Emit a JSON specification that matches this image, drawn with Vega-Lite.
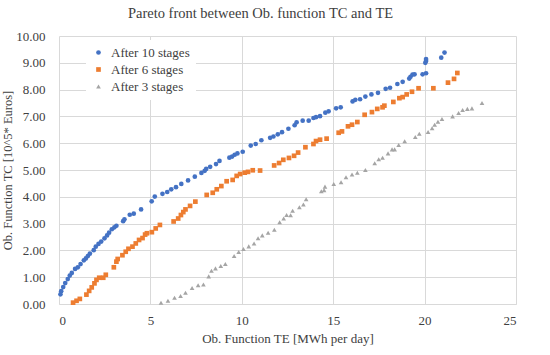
{
  "$schema": "https://vega.github.io/schema/vega-lite/v6.json",
  "width": 457,
  "height": 268,
  "autosize": "none",
  "padding": {"left": 59, "top": 36, "right": 34, "bottom": 51},
  "background": "white",
  "title": {"text": "Pareto front between Ob. function TC and TE", "font": "Liberation Serif", "fontSize": 14.5, "fontWeight": "normal", "color": "#404040", "anchor": "middle", "dx": -27, "offset": 9},
  "datasets": {
    "pts": [
      {"s": "After 10 stages", "te": 0.08, "tc": 0.36}, {"s": "After 10 stages", "te": 0.12, "tc": 0.48}, {"s": "After 10 stages", "te": 0.23, "tc": 0.63}, {"s": "After 10 stages", "te": 0.34, "tc": 0.78}, {"s": "After 10 stages", "te": 0.48, "tc": 0.93}, {"s": "After 10 stages", "te": 0.59, "tc": 1.06}, {"s": "After 10 stages", "te": 0.70, "tc": 1.16}, {"s": "After 10 stages", "te": 0.88, "tc": 1.31}, {"s": "After 10 stages", "te": 1.03, "tc": 1.37}, {"s": "After 10 stages", "te": 1.18, "tc": 1.49}, {"s": "After 10 stages", "te": 1.36, "tc": 1.63}, {"s": "After 10 stages", "te": 1.47, "tc": 1.70}, {"s": "After 10 stages", "te": 1.58, "tc": 1.79}, {"s": "After 10 stages", "te": 1.69, "tc": 1.88}, {"s": "After 10 stages", "te": 1.90, "tc": 2.01}, {"s": "After 10 stages", "te": 2.01, "tc": 2.14}, {"s": "After 10 stages", "te": 2.16, "tc": 2.24}, {"s": "After 10 stages", "te": 2.31, "tc": 2.33}, {"s": "After 10 stages", "te": 2.49, "tc": 2.45}, {"s": "After 10 stages", "te": 2.63, "tc": 2.56}, {"s": "After 10 stages", "te": 2.74, "tc": 2.66}, {"s": "After 10 stages", "te": 2.89, "tc": 2.79}, {"s": "After 10 stages", "te": 3.03, "tc": 2.86}, {"s": "After 10 stages", "te": 3.14, "tc": 2.92}, {"s": "After 10 stages", "te": 3.51, "tc": 3.09}, {"s": "After 10 stages", "te": 3.58, "tc": 3.16}, {"s": "After 10 stages", "te": 3.87, "tc": 3.33}, {"s": "After 10 stages", "te": 4.09, "tc": 3.37}, {"s": "After 10 stages", "te": 4.49, "tc": 3.53}, {"s": "After 10 stages", "te": 5.07, "tc": 3.83}, {"s": "After 10 stages", "te": 5.24, "tc": 4.01}, {"s": "After 10 stages", "te": 5.66, "tc": 4.11}, {"s": "After 10 stages", "te": 5.92, "tc": 4.18}, {"s": "After 10 stages", "te": 6.14, "tc": 4.28}, {"s": "After 10 stages", "te": 6.40, "tc": 4.36}, {"s": "After 10 stages", "te": 6.69, "tc": 4.48}, {"s": "After 10 stages", "te": 7.06, "tc": 4.61}, {"s": "After 10 stages", "te": 7.43, "tc": 4.75}, {"s": "After 10 stages", "te": 7.79, "tc": 4.89}, {"s": "After 10 stages", "te": 7.97, "tc": 4.97}, {"s": "After 10 stages", "te": 8.05, "tc": 5.04}, {"s": "After 10 stages", "te": 8.27, "tc": 5.12}, {"s": "After 10 stages", "te": 8.59, "tc": 5.22}, {"s": "After 10 stages", "te": 8.78, "tc": 5.34}, {"s": "After 10 stages", "te": 9.32, "tc": 5.46}, {"s": "After 10 stages", "te": 9.47, "tc": 5.50}, {"s": "After 10 stages", "te": 9.61, "tc": 5.57}, {"s": "After 10 stages", "te": 9.76, "tc": 5.62}, {"s": "After 10 stages", "te": 10.05, "tc": 5.68}, {"s": "After 10 stages", "te": 10.49, "tc": 5.91}, {"s": "After 10 stages", "te": 10.76, "tc": 5.97}, {"s": "After 10 stages", "te": 11.07, "tc": 6.11}, {"s": "After 10 stages", "te": 11.55, "tc": 6.20}, {"s": "After 10 stages", "te": 11.73, "tc": 6.25}, {"s": "After 10 stages", "te": 11.97, "tc": 6.33}, {"s": "After 10 stages", "te": 12.20, "tc": 6.41}, {"s": "After 10 stages", "te": 12.55, "tc": 6.54}, {"s": "After 10 stages", "te": 12.89, "tc": 6.67}, {"s": "After 10 stages", "te": 13.00, "tc": 6.78}, {"s": "After 10 stages", "te": 13.33, "tc": 6.84}, {"s": "After 10 stages", "te": 13.66, "tc": 6.84}, {"s": "After 10 stages", "te": 13.92, "tc": 6.94}, {"s": "After 10 stages", "te": 14.06, "tc": 6.97}, {"s": "After 10 stages", "te": 14.28, "tc": 7.01}, {"s": "After 10 stages", "te": 14.57, "tc": 7.14}, {"s": "After 10 stages", "te": 14.75, "tc": 7.19}, {"s": "After 10 stages", "te": 15.16, "tc": 7.30}, {"s": "After 10 stages", "te": 15.41, "tc": 7.34}, {"s": "After 10 stages", "te": 16.06, "tc": 7.56}, {"s": "After 10 stages", "te": 16.21, "tc": 7.62}, {"s": "After 10 stages", "te": 16.47, "tc": 7.64}, {"s": "After 10 stages", "te": 16.76, "tc": 7.74}, {"s": "After 10 stages", "te": 17.09, "tc": 7.82}, {"s": "After 10 stages", "te": 17.45, "tc": 7.88}, {"s": "After 10 stages", "te": 17.87, "tc": 8.03}, {"s": "After 10 stages", "te": 18.11, "tc": 8.07}, {"s": "After 10 stages", "te": 18.51, "tc": 8.21}, {"s": "After 10 stages", "te": 18.80, "tc": 8.29}, {"s": "After 10 stages", "te": 19.16, "tc": 8.41}, {"s": "After 10 stages", "te": 19.23, "tc": 8.48}, {"s": "After 10 stages", "te": 19.34, "tc": 8.56}, {"s": "After 10 stages", "te": 19.45, "tc": 8.57}, {"s": "After 10 stages", "te": 19.89, "tc": 8.57}, {"s": "After 10 stages", "te": 20.08, "tc": 8.61}, {"s": "After 10 stages", "te": 20.04, "tc": 9.00}, {"s": "After 10 stages", "te": 20.08, "tc": 9.07}, {"s": "After 10 stages", "te": 20.08, "tc": 9.14}, {"s": "After 10 stages", "te": 20.91, "tc": 9.19}, {"s": "After 10 stages", "te": 21.09, "tc": 9.38},
      {"s": "After 6 stages", "te": 0.77, "tc": 0.05}, {"s": "After 6 stages", "te": 0.96, "tc": 0.12}, {"s": "After 6 stages", "te": 1.14, "tc": 0.19}, {"s": "After 6 stages", "te": 1.50, "tc": 0.35}, {"s": "After 6 stages", "te": 1.65, "tc": 0.49}, {"s": "After 6 stages", "te": 1.79, "tc": 0.62}, {"s": "After 6 stages", "te": 1.94, "tc": 0.77}, {"s": "After 6 stages", "te": 2.05, "tc": 0.90}, {"s": "After 6 stages", "te": 2.20, "tc": 0.98}, {"s": "After 6 stages", "te": 2.42, "tc": 0.98}, {"s": "After 6 stages", "te": 2.56, "tc": 1.09}, {"s": "After 6 stages", "te": 3.00, "tc": 1.37}, {"s": "After 6 stages", "te": 3.14, "tc": 1.58}, {"s": "After 6 stages", "te": 3.21, "tc": 1.68}, {"s": "After 6 stages", "te": 3.47, "tc": 1.82}, {"s": "After 6 stages", "te": 3.65, "tc": 1.95}, {"s": "After 6 stages", "te": 3.80, "tc": 2.06}, {"s": "After 6 stages", "te": 4.02, "tc": 2.14}, {"s": "After 6 stages", "te": 4.20, "tc": 2.26}, {"s": "After 6 stages", "te": 4.38, "tc": 2.39}, {"s": "After 6 stages", "te": 4.57, "tc": 2.46}, {"s": "After 6 stages", "te": 4.71, "tc": 2.59}, {"s": "After 6 stages", "te": 4.81, "tc": 2.64}, {"s": "After 6 stages", "te": 5.08, "tc": 2.68}, {"s": "After 6 stages", "te": 5.29, "tc": 2.82}, {"s": "After 6 stages", "te": 5.52, "tc": 2.95}, {"s": "After 6 stages", "te": 6.27, "tc": 3.08}, {"s": "After 6 stages", "te": 6.52, "tc": 3.19}, {"s": "After 6 stages", "te": 6.67, "tc": 3.32}, {"s": "After 6 stages", "te": 6.80, "tc": 3.43}, {"s": "After 6 stages", "te": 6.92, "tc": 3.53}, {"s": "After 6 stages", "te": 7.17, "tc": 3.66}, {"s": "After 6 stages", "te": 7.46, "tc": 3.82}, {"s": "After 6 stages", "te": 8.08, "tc": 4.07}, {"s": "After 6 stages", "te": 8.41, "tc": 4.15}, {"s": "After 6 stages", "te": 8.63, "tc": 4.28}, {"s": "After 6 stages", "te": 8.88, "tc": 4.40}, {"s": "After 6 stages", "te": 9.17, "tc": 4.58}, {"s": "After 6 stages", "te": 9.50, "tc": 4.63}, {"s": "After 6 stages", "te": 9.72, "tc": 4.78}, {"s": "After 6 stages", "te": 9.91, "tc": 4.85}, {"s": "After 6 stages", "te": 10.16, "tc": 4.90}, {"s": "After 6 stages", "te": 10.34, "tc": 4.93}, {"s": "After 6 stages", "te": 10.60, "tc": 4.99}, {"s": "After 6 stages", "te": 11.00, "tc": 4.98}, {"s": "After 6 stages", "te": 11.77, "tc": 5.17}, {"s": "After 6 stages", "te": 12.04, "tc": 5.26}, {"s": "After 6 stages", "te": 12.27, "tc": 5.38}, {"s": "After 6 stages", "te": 12.58, "tc": 5.45}, {"s": "After 6 stages", "te": 12.86, "tc": 5.53}, {"s": "After 6 stages", "te": 13.08, "tc": 5.65}, {"s": "After 6 stages", "te": 13.48, "tc": 5.85}, {"s": "After 6 stages", "te": 13.92, "tc": 5.97}, {"s": "After 6 stages", "te": 14.06, "tc": 6.08}, {"s": "After 6 stages", "te": 14.28, "tc": 6.13}, {"s": "After 6 stages", "te": 14.64, "tc": 6.17}, {"s": "After 6 stages", "te": 15.30, "tc": 6.39}, {"s": "After 6 stages", "te": 15.48, "tc": 6.44}, {"s": "After 6 stages", "te": 15.81, "tc": 6.63}, {"s": "After 6 stages", "te": 16.03, "tc": 6.69}, {"s": "After 6 stages", "te": 16.32, "tc": 6.79}, {"s": "After 6 stages", "te": 16.72, "tc": 7.06}, {"s": "After 6 stages", "te": 17.12, "tc": 7.16}, {"s": "After 6 stages", "te": 17.41, "tc": 7.28}, {"s": "After 6 stages", "te": 17.70, "tc": 7.34}, {"s": "After 6 stages", "te": 17.80, "tc": 7.40}, {"s": "After 6 stages", "te": 18.29, "tc": 7.54}, {"s": "After 6 stages", "te": 18.62, "tc": 7.68}, {"s": "After 6 stages", "te": 18.80, "tc": 7.72}, {"s": "After 6 stages", "te": 19.02, "tc": 7.82}, {"s": "After 6 stages", "te": 19.31, "tc": 7.92}, {"s": "After 6 stages", "te": 19.67, "tc": 8.05}, {"s": "After 6 stages", "te": 20.48, "tc": 8.05}, {"s": "After 6 stages", "te": 21.28, "tc": 8.26}, {"s": "After 6 stages", "te": 21.61, "tc": 8.40}, {"s": "After 6 stages", "te": 21.79, "tc": 8.62},
      {"s": "After 3 stages", "te": 5.58, "tc": 0.05}, {"s": "After 3 stages", "te": 5.96, "tc": 0.12}, {"s": "After 3 stages", "te": 6.32, "tc": 0.23}, {"s": "After 3 stages", "te": 6.65, "tc": 0.30}, {"s": "After 3 stages", "te": 6.92, "tc": 0.42}, {"s": "After 3 stages", "te": 7.28, "tc": 0.60}, {"s": "After 3 stages", "te": 7.61, "tc": 0.70}, {"s": "After 3 stages", "te": 7.90, "tc": 0.73}, {"s": "After 3 stages", "te": 8.19, "tc": 1.03}, {"s": "After 3 stages", "te": 8.34, "tc": 1.24}, {"s": "After 3 stages", "te": 8.56, "tc": 1.33}, {"s": "After 3 stages", "te": 8.85, "tc": 1.42}, {"s": "After 3 stages", "te": 9.10, "tc": 1.49}, {"s": "After 3 stages", "te": 9.58, "tc": 1.79}, {"s": "After 3 stages", "te": 9.83, "tc": 1.94}, {"s": "After 3 stages", "te": 10.09, "tc": 2.05}, {"s": "After 3 stages", "te": 10.38, "tc": 2.15}, {"s": "After 3 stages", "te": 10.67, "tc": 2.26}, {"s": "After 3 stages", "te": 10.89, "tc": 2.45}, {"s": "After 3 stages", "te": 11.12, "tc": 2.56}, {"s": "After 3 stages", "te": 11.44, "tc": 2.66}, {"s": "After 3 stages", "te": 11.78, "tc": 2.77}, {"s": "After 3 stages", "te": 12.07, "tc": 3.05}, {"s": "After 3 stages", "te": 12.29, "tc": 3.19}, {"s": "After 3 stages", "te": 12.45, "tc": 3.32}, {"s": "After 3 stages", "te": 12.67, "tc": 3.31}, {"s": "After 3 stages", "te": 12.78, "tc": 3.48}, {"s": "After 3 stages", "te": 13.15, "tc": 3.61}, {"s": "After 3 stages", "te": 13.37, "tc": 3.71}, {"s": "After 3 stages", "te": 13.52, "tc": 3.91}, {"s": "After 3 stages", "te": 14.35, "tc": 4.21}, {"s": "After 3 stages", "te": 14.50, "tc": 4.25}, {"s": "After 3 stages", "te": 14.55, "tc": 4.38}, {"s": "After 3 stages", "te": 15.03, "tc": 4.48}, {"s": "After 3 stages", "te": 15.43, "tc": 4.54}, {"s": "After 3 stages", "te": 15.70, "tc": 4.73}, {"s": "After 3 stages", "te": 16.03, "tc": 4.83}, {"s": "After 3 stages", "te": 16.32, "tc": 4.90}, {"s": "After 3 stages", "te": 16.76, "tc": 5.00}, {"s": "After 3 stages", "te": 17.27, "tc": 5.25}, {"s": "After 3 stages", "te": 17.49, "tc": 5.40}, {"s": "After 3 stages", "te": 17.70, "tc": 5.46}, {"s": "After 3 stages", "te": 18.00, "tc": 5.62}, {"s": "After 3 stages", "te": 18.22, "tc": 5.77}, {"s": "After 3 stages", "te": 18.36, "tc": 5.77}, {"s": "After 3 stages", "te": 18.58, "tc": 5.93}, {"s": "After 3 stages", "te": 18.91, "tc": 6.07}, {"s": "After 3 stages", "te": 19.49, "tc": 6.23}, {"s": "After 3 stages", "te": 19.71, "tc": 6.35}, {"s": "After 3 stages", "te": 20.19, "tc": 6.42}, {"s": "After 3 stages", "te": 20.41, "tc": 6.56}, {"s": "After 3 stages", "te": 20.55, "tc": 6.69}, {"s": "After 3 stages", "te": 20.73, "tc": 6.80}, {"s": "After 3 stages", "te": 20.95, "tc": 6.90}, {"s": "After 3 stages", "te": 21.53, "tc": 7.00}, {"s": "After 3 stages", "te": 21.86, "tc": 7.13}, {"s": "After 3 stages", "te": 22.08, "tc": 7.24}, {"s": "After 3 stages", "te": 22.34, "tc": 7.28}, {"s": "After 3 stages", "te": 22.59, "tc": 7.30}, {"s": "After 3 stages", "te": 23.14, "tc": 7.50}
    ]
  },
  "data": {"name": "pts"},
  "mark": {"type": "point", "filled": true, "opacity": 1, "size": 22},
  "encoding": {
    "x": {"field": "te", "type": "quantitative", "scale": {"domain": [0, 25], "nice": false, "zero": true},
      "axis": {"title": "Ob. Function  TE [MWh per day]", "values": [0, 5, 10, 15, 20, 25], "format": "d", "grid": true, "tickSize": 0, "labelPadding": 10, "titlePadding": 5}},
    "y": {"field": "tc", "type": "quantitative", "scale": {"domain": [0, 10], "nice": false},
      "axis": {"title": "Ob. Function TC [10^5* Euros]", "titleFontSize": 12.5, "values": [0, 1, 2, 3, 4, 5, 6, 7, 8, 9, 10], "format": ".2f", "grid": true, "tickSize": 0, "labelPadding": 14, "titlePadding": 1}},
    "color": {"field": "s", "type": "nominal", "scale": {"domain": ["After 10 stages", "After 6 stages", "After 3 stages"], "range": ["#4472C4", "#ED7D31", "#A5A5A5"]},
      "legend": {"title": null, "orient": "none", "legendX": 27, "legendY": 4, "fillColor": "white", "padding": 6, "rowPadding": 3, "symbolSize": 22, "labelOffset": 6}},
    "shape": {"field": "s", "type": "nominal", "scale": {"domain": ["After 10 stages", "After 6 stages", "After 3 stages"], "range": ["circle", "square", "triangle-up"]}, "legend": {"title": null}}
  },
  "config": {
    "view": {"stroke": null},
    "axis": {"labelFont": "Liberation Serif", "labelFontSize": 13, "labelColor": "#404040", "titleFont": "Liberation Serif", "titleFontSize": 13, "titleFontWeight": "normal", "titleColor": "#404040", "gridColor": "#d9d9d9", "domainColor": "#d9d9d9", "domain": true},
    "axisY": {"domain": false},
    "legend": {"labelFont": "Liberation Serif", "labelFontSize": 13, "labelColor": "#404040"}
  }
}
